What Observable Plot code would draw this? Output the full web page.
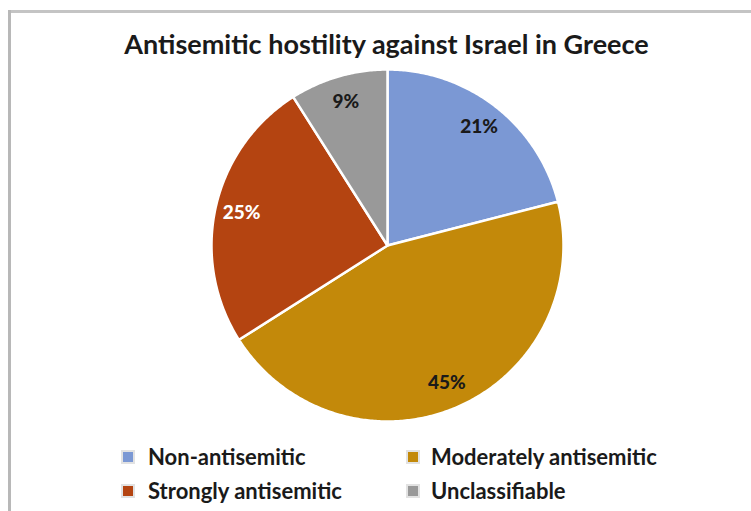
<!DOCTYPE html>
<html><head><meta charset="utf-8">
<script src="https://cdn.jsdelivr.net/npm/d3@7"></script>
<script src="https://cdn.jsdelivr.net/npm/@observablehq/plot@0.6"></script>
<style>
body{margin:0;background:#fff;}
#wrap{position:relative;width:751px;height:511px;overflow:hidden;font-family:Lato,"Open Sans",sans-serif;background:#fff;}
.bt{position:absolute;left:8px;top:10px;right:0;height:3px;background:#c4c4c4;}
.bl{position:absolute;left:8px;top:10px;bottom:0;width:3px;background:#b8b8b8;}
#title{position:absolute;left:0;width:773px;top:27px;text-align:center;font-weight:700;font-size:27px;color:#1a1a1a;white-space:nowrap;}
#chart{position:absolute;left:0;top:0;}
.item{position:absolute;font-weight:700;font-size:22px;color:#1a1a1a;white-space:nowrap;line-height:1;}
.sw{position:absolute;width:10px;height:10px;box-shadow:0 0 0 2px #e2e2e2;}
</style></head><body><div id="wrap"><div class="bt"></div><div class="bl"></div><div id="title"></div><div id="chart"></div></div>
<script>
const title = "Antisemitic hostility against Israel in Greece";
const categories = ["Non-antisemitic","Moderately antisemitic","Strongly antisemitic","Unclassifiable"];
const shares = [21,45,25,9];
const colors = ["#7b98d4","#c3890a","#b44411","#999999"];
const darkLabel = [true,true,false,true];
const legendCols = [0,1,0,1];
const legendRows = [0,0,1,1];

const rows = categories.map((c,i)=>({cat:c, v:shares[i], dark:darkLabel[i]}));
const arcs = d3.pie().sort(null).value(d=>d.v)(rows);
const pts = [];
const labels = [];
arcs.forEach(a=>{
  const cat = a.data.cat;
  pts.push({cat, x:0, y:0});
  const n = Math.max(2, Math.ceil((a.endAngle-a.startAngle)/0.01));
  for(let k=0;k<=n;k++){
    const t = a.startAngle + (a.endAngle-a.startAngle)*k/n;
    pts.push({cat, x:Math.sin(t), y:Math.cos(t)});
  }
  pts.push({cat, x:0, y:0});
  const m = (a.startAngle+a.endAngle)/2;
  labels.push({cat, x:0.85*Math.sin(m), y:0.85*Math.cos(m), text:a.data.v+"%", dark:a.data.dark});
});

document.getElementById("title").textContent = title;

const plot = Plot.plot({
  width:751, height:511, margin:0,
  style:{background:"transparent", fontFamily:"Lato, sans-serif"},
  x:{domain:[-1,1], range:[211,563], axis:null},
  y:{domain:[-1,1], range:[421,69], axis:null},
  color:{domain:categories, range:colors},
  marks:[
    Plot.line(pts,{x:"x",y:"y",z:"cat",fill:"cat",stroke:"#ffffff",strokeWidth:2.5,curve:"linear"}),
    Plot.text(labels.filter(d=>d.dark),{x:"x",y:"y",text:"text",fill:"#1a1a1a",fontSize:19,fontWeight:900}),
    Plot.text(labels.filter(d=>!d.dark),{x:"x",y:"y",text:"text",fill:"#ffffff",fontSize:19,fontWeight:900})
  ]
});
document.getElementById("chart").appendChild(plot);

const wrap = document.getElementById("wrap");
const colX = [123, 408], textX = [148, 431], rowTop = [448, 482];
categories.forEach((c,i)=>{
  const sw = document.createElement("div");
  sw.className="sw";
  sw.style.left = colX[legendCols[i]]+"px";
  sw.style.top = (rowTop[legendRows[i]]+4)+"px";
  sw.style.background = colors[i];
  wrap.appendChild(sw);
  const t = document.createElement("div");
  t.className="item";
  t.style.left = textX[legendCols[i]]+"px";
  t.style.top = (rowTop[legendRows[i]]-2)+"px";
  t.textContent = c;
  wrap.appendChild(t);
});
</script></body></html>
